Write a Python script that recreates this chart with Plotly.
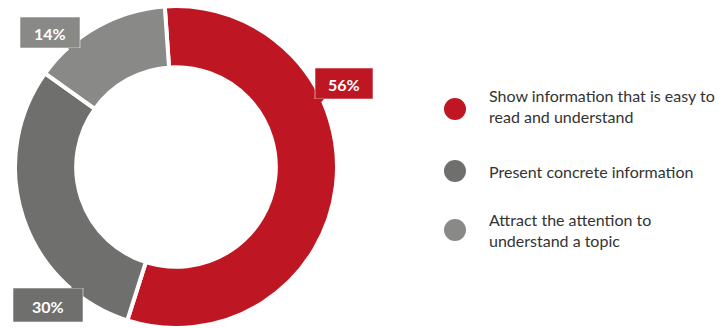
import plotly.graph_objects as go

# Survey answers
categories = [
    "Show information that is easy to<br>read and understand",
    "Present concrete information",
    "Attract the attention to<br>understand a topic",
]
shares = [56, 30, 14]
colors = ["#BE1723", "#6F6F6E", "#898988"]

W, H = 727, 328
CX, CY, R = 176, 167, 161  # donut centre and outer radius in px

fig = go.Figure()

fig.add_trace(go.Pie(
    labels=categories,
    values=shares,
    hole=0.62,
    sort=False,
    direction="clockwise",
    rotation=-4,
    marker=dict(colors=colors, line=dict(color="white", width=4)),
    textinfo="none",
    hoverinfo="skip",
    showlegend=False,
    domain=dict(x=[max(0, (CX - R) / W), min(1, (CX + R) / W)],
                y=[max(0, 1 - (CY + R) / H), min(1, 1 - (CY - R) / H)]),
))

# Callout boxes: (box x0, y0, x1, y1, tail polygon) in px
callouts = [
    (315, 68, 373, 99, [(315, 99), (313, 111), (324, 99)]),
    (13, 288, 83, 322, [(83, 288), (83, 275), (71, 288)]),
    (20, 17, 80, 48, [(80, 48), (81, 60), (68, 48)]),
]

shapes = []
annotations = []
for (x0, y0, x1, y1, tail), val, col in zip(callouts, shares, colors):
    shapes.append(dict(type="rect", xref="x", yref="y", x0=x0, y0=y0, x1=x1, y1=y1,
                       fillcolor=col, line=dict(color="rgba(255,255,255,0.55)", width=1),
                       layer="above"))
    path = "M " + " L ".join(f"{px},{py}" for px, py in tail) + " Z"
    shapes.append(dict(type="path", xref="x", yref="y", path=path,
                       fillcolor=col, line=dict(color=col, width=0), layer="above"))
    annotations.append(dict(x=(x0 + x1) / 2, y=(y0 + y1) / 2 + 1, xref="x", yref="y",
                            text=f"{val}%", showarrow=False,
                            font=dict(family="Lato", size=16, color="white", weight="bold")))

# Legend drawn as circle markers plus text
marker_y = [109, 171, 230]
text_y = [106, 171, 230]
fig.add_trace(go.Scatter(
    x=[455] * 3, y=marker_y, mode="markers",
    marker=dict(size=22, color=colors, line=dict(width=0)),
    hoverinfo="skip", showlegend=False,
))
for cat, ty in zip(categories, text_y):
    annotations.append(dict(x=487, y=ty, xref="x", yref="y", text=cat, showarrow=False,
                            xanchor="left", yanchor="middle", align="left",
                            font=dict(family="Lato", size=16, color="#333333")))

fig.update_layout(
    width=W, height=H,
    margin=dict(l=0, r=0, t=0, b=0),
    paper_bgcolor="white", plot_bgcolor="rgba(0,0,0,0)",
    xaxis=dict(range=[0, W], visible=False, fixedrange=True),
    yaxis=dict(range=[H, 0], visible=False, fixedrange=True),
    shapes=shapes, annotations=annotations,
)

fig.write_html("out.html")
